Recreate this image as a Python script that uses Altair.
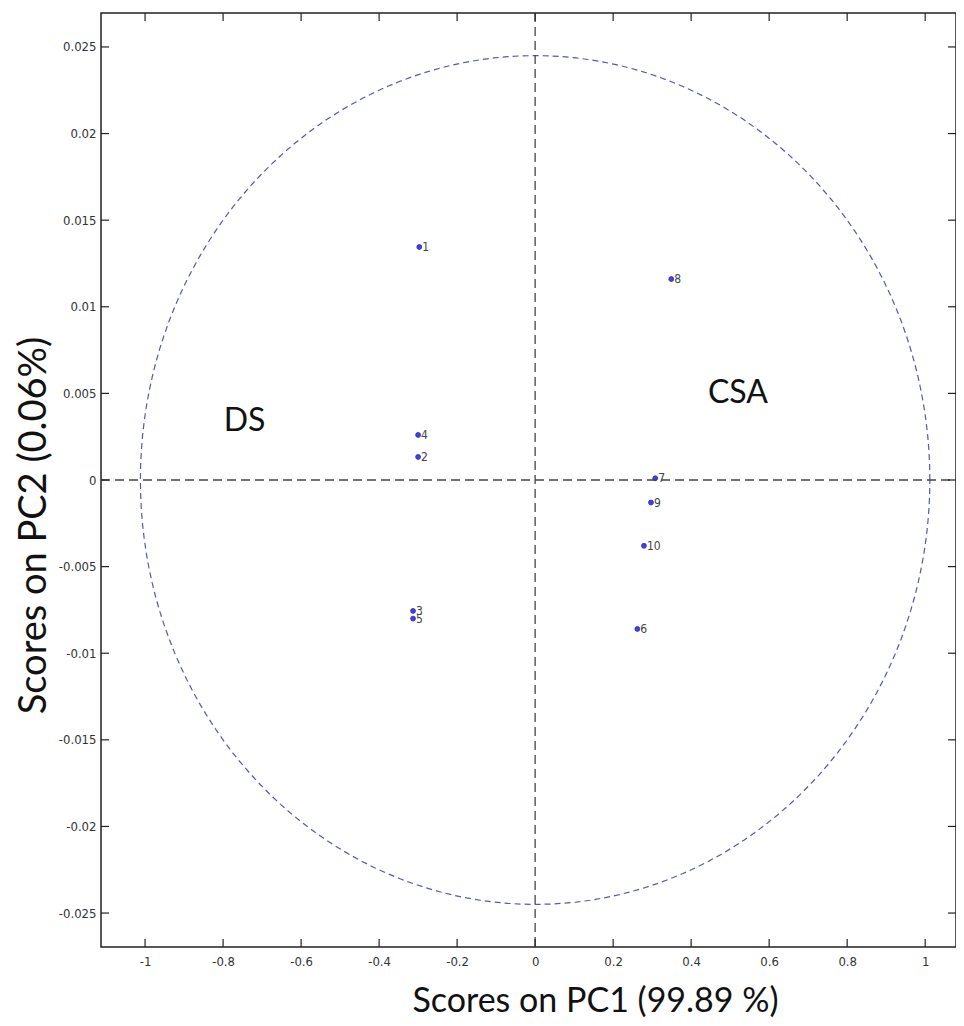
import altair as alt
import pandas as pd

# ---- data ----
sample_ids = ["1", "2", "3", "4", "5", "6", "7", "8", "9", "10"]
pc1_scores = [-0.297, -0.300, -0.313, -0.300, -0.313, 0.262, 0.308, 0.349, 0.297, 0.279]
pc2_scores = [0.01345, 0.00133, -0.00756, 0.0026, -0.0080, -0.0086, 0.0001, 0.0116, -0.0013, -0.0038]

group_labels = ["DS", "CSA"]
group_x = [-0.745, 0.52]
group_y = [0.0034, 0.0050]

x_ticks = [-1, -0.8, -0.6, -0.4, -0.2, 0, 0.2, 0.4, 0.6, 0.8, 1]
y_ticks = [-0.025, -0.02, -0.015, -0.01, -0.005, 0, 0.005, 0.01, 0.015, 0.02, 0.025]

x_domain = [-1.113, 1.079]
y_domain = [-0.02696, 0.02696]

ellipse_semi_x = 1.012   # confidence ellipse semi-axis on PC1
ellipse_semi_y = 0.0245  # confidence ellipse semi-axis on PC2

W, H = 855, 934
TICK = 8

pts = pd.DataFrame({"id": sample_ids, "pc1": pc1_scores, "pc2": pc2_scores})
grp = pd.DataFrame({"label": group_labels, "x": group_x, "y": group_y})
xt = pd.DataFrame({"v": x_ticks})
yt = pd.DataFrame({"v": y_ticks})

xs = alt.Scale(domain=x_domain, nice=False, zero=False)
ys = alt.Scale(domain=y_domain, nice=False, zero=False)

label_font = "DejaVu Sans Condensed, Liberation Sans, sans-serif"
title_font = "Lato"

base_x = alt.X(
    "pc1:Q", scale=xs,
    axis=alt.Axis(
        values=x_ticks, labelExpr="toString(datum.value)",
        title="Scores on PC1 (99.89 %)", grid=False, ticks=False, domain=False,
        labelFont=label_font, labelFontSize=13, labelColor="#333333", labelPadding=8,
        titleFont=title_font, titleFontSize=34, titleFontWeight="normal", titleColor="#111111",
        titleX=494, titleY=64, titleBaseline="alphabetic", titleAnchor="middle", titleAlign="center",
    ),
)
base_y = alt.Y(
    "pc2:Q", scale=ys,
    axis=alt.Axis(
        values=y_ticks, labelExpr="toString(datum.value)",
        title="Scores on PC2 (0.06%)", grid=False, ticks=False, domain=False,
        labelFont=label_font, labelFontSize=13, labelColor="#333333", labelPadding=5,
        titleFont=title_font, titleFontSize=38, titleFontWeight="normal", titleColor="#111111",
        titleX=-56, titleY=512, titleBaseline="alphabetic", titleAlign="center", titleAngle=270,
    ),
)

points = alt.Chart(pts).mark_point(
    shape="circle", size=24, filled=True, color="#4040f0", stroke="#2a2aa0", strokeWidth=0.8, opacity=1
).encode(x=base_x, y=base_y)

point_labels = alt.Chart(pts).mark_text(
    align="left", baseline="middle", dx=3, font=label_font, fontSize=12, color="#444444"
).encode(x=alt.X("pc1:Q", scale=xs), y=alt.Y("pc2:Q", scale=ys), text="id:N")

ellipse = alt.Chart(alt.sequence(0, 362, 2, as_="t")).transform_calculate(
    ex=f"{ellipse_semi_x} * cos(datum.t * PI / 180)",
    ey=f"{ellipse_semi_y} * sin(datum.t * PI / 180)",
).mark_line(color="#5656b8", strokeWidth=1.2, strokeDash=[6, 4]).encode(
    x=alt.X("ex:Q", scale=xs), y=alt.Y("ey:Q", scale=ys), order="t:Q"
)

zero_v = alt.Chart(pd.DataFrame({"v": [0]})).mark_rule(
    color="#444444", strokeWidth=1.3, strokeDash=[9, 5]
).encode(x=alt.X("v:Q", scale=xs), y=alt.value(0), y2=alt.value(H))

zero_h = alt.Chart(pd.DataFrame({"v": [0]})).mark_rule(
    color="#444444", strokeWidth=1.3, strokeDash=[9, 5]
).encode(y=alt.Y("v:Q", scale=ys), x=alt.value(0), x2=alt.value(W))

tick_style = dict(color="#222222", strokeWidth=1.2)
xt_bottom = alt.Chart(xt).mark_rule(**tick_style).encode(
    x=alt.X("v:Q", scale=xs), y=alt.value(H), y2=alt.value(H - TICK))
xt_top = alt.Chart(xt).mark_rule(**tick_style).encode(
    x=alt.X("v:Q", scale=xs), y=alt.value(0), y2=alt.value(TICK))
yt_left = alt.Chart(yt).mark_rule(**tick_style).encode(
    y=alt.Y("v:Q", scale=ys), x=alt.value(0), x2=alt.value(TICK))
yt_right = alt.Chart(yt).mark_rule(**tick_style).encode(
    y=alt.Y("v:Q", scale=ys), x=alt.value(W), x2=alt.value(W - TICK))

groups = alt.Chart(grp).mark_text(
    font=title_font, fontSize=32, color="#111111", align="center", baseline="middle"
).encode(x=alt.X("x:Q", scale=xs), y=alt.Y("y:Q", scale=ys), text="label:N")

chart = alt.layer(
    points, ellipse, zero_v, zero_h, xt_bottom, xt_top, yt_left, yt_right,
    point_labels, groups
).properties(
    width=W, height=H,
    autosize=alt.AutoSizeParams(type="none"),
    padding={"left": 93, "top": 5, "right": 0, "bottom": 71},
    background="white",
).configure_view(
    stroke="#222222", strokeWidth=1.5
)

chart.save("out.html", embed_options={"renderer": "svg", "actions": False})
